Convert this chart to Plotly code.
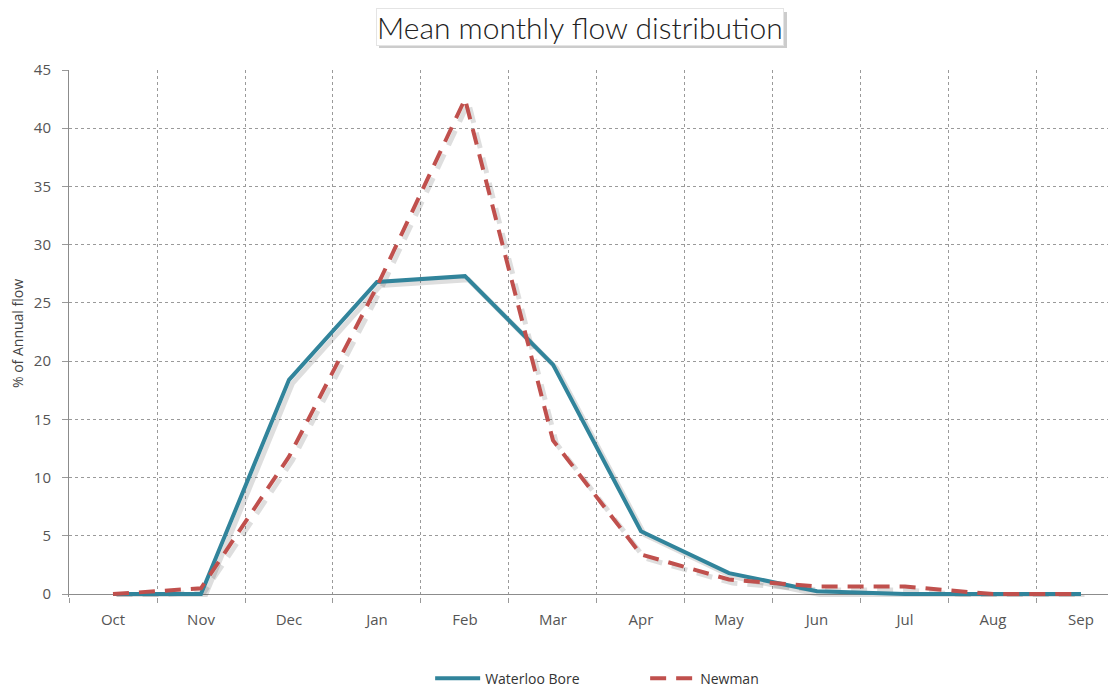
import plotly.graph_objects as go

months = ["Oct", "Nov", "Dec", "Jan", "Feb", "Mar", "Apr", "May", "Jun", "Jul", "Aug", "Sep"]
waterloo_bore = [0, 0, 18.4, 26.8, 27.3, 19.7, 5.4, 1.8, 0.25, 0, 0, 0]
newman = [0, 0.5, 11.8, 26.4, 42.5, 13.2, 3.4, 1.25, 0.65, 0.65, 0, 0]

x_idx = list(range(len(months)))
teal = "#31849B"
red = "#C0504D"
font_family = "Open Sans, Segoe UI, sans-serif"
title_family = "Lato, Open Sans, sans-serif"

fig = go.Figure()

# soft drop shadows (offset copies of the series)
for vals, dash in [(waterloo_bore, "solid"), (newman, "16px,10px")]:
    fig.add_trace(go.Scatter(
        x=[i + 0.04 for i in x_idx], y=[v - 0.3 for v in vals],
        mode="lines", line=dict(color="rgba(0,0,0,0.13)", width=5, dash=dash),
        showlegend=False, hoverinfo="skip"))

fig.add_trace(go.Scatter(x=x_idx, y=waterloo_bore, mode="lines", name="Waterloo Bore",
                         line=dict(color=teal, width=4)))
fig.add_trace(go.Scatter(x=x_idx, y=newman, mode="lines", name="Newman",
                         line=dict(color=red, width=4, dash="16px,10px")))

# page has an 8px body margin: figure is sized to fit the window
fig.update_layout(
    width=1108, height=683,
    margin=dict(l=61, r=0, t=62, b=94, autoexpand=False),
    paper_bgcolor="white", plot_bgcolor="white",
    font=dict(family=font_family, color="#555555", size=15),
    showlegend=True,
    legend=dict(orientation="h", x=0.381, xanchor="left", xref="container",
                y=0.018, yanchor="middle", yref="container",
                font=dict(size=14, color="#333333"), itemwidth=45, entrywidth=155),
    xaxis=dict(
        range=[-0.5, 11.398], tickmode="array", tickvals=x_idx, ticktext=months,
        ticks="", showgrid=False, zeroline=False, showline=False, automargin=False,
        tickfont=dict(size=15, color="#555555"), ticklabelstandoff=12,
        minor=dict(tick0=-0.5, dtick=1, ticks="outside", ticklen=5, tickcolor="#999999",
                   showgrid=True, gridcolor="#9a9a9a", griddash="dot", gridwidth=1),
        fixedrange=True,
    ),
    yaxis=dict(
        range=[-0.25, 45], tickmode="array", tickvals=[0, 5, 10, 15, 20, 25, 30, 35, 40, 45],
        ticks="outside", ticklen=6, tickcolor="#999999", automargin=False,
        showgrid=True, gridcolor="#9a9a9a", griddash="dot", gridwidth=1,
        zeroline=True, zerolinecolor="#8c8c8c", zerolinewidth=1,
        showline=True, linecolor="#8c8c8c", linewidth=1,
        title=dict(text="% of Annual flow", font=dict(size=14, color="#444444"), standoff=6),
        tickfont=dict(size=15, color="#555555"), ticklabelstandoff=8,
    ),
)

# title box shadow
fig.add_shape(type="rect", xref="paper", yref="paper",
              x0=(379 - 69) / 1047, x1=(787 - 69) / 1047,
              y0=(597 - 48) / 527, y1=(597 - 12) / 527,
              fillcolor="rgba(0,0,0,0.2)", line=dict(width=0), layer="below")
fig.add_annotation(text="Mean monthly flow distribution", xref="paper", yref="paper",
                   x=(580 - 69) / 1047, y=(597 - 27) / 527,
                   xanchor="center", yanchor="middle", showarrow=False,
                   font=dict(size=30, color="#222222", family=title_family, weight=300),
                   bgcolor="white", bordercolor="#e4e4e4", borderwidth=1, borderpad=0)

fig.write_html("out.html")
